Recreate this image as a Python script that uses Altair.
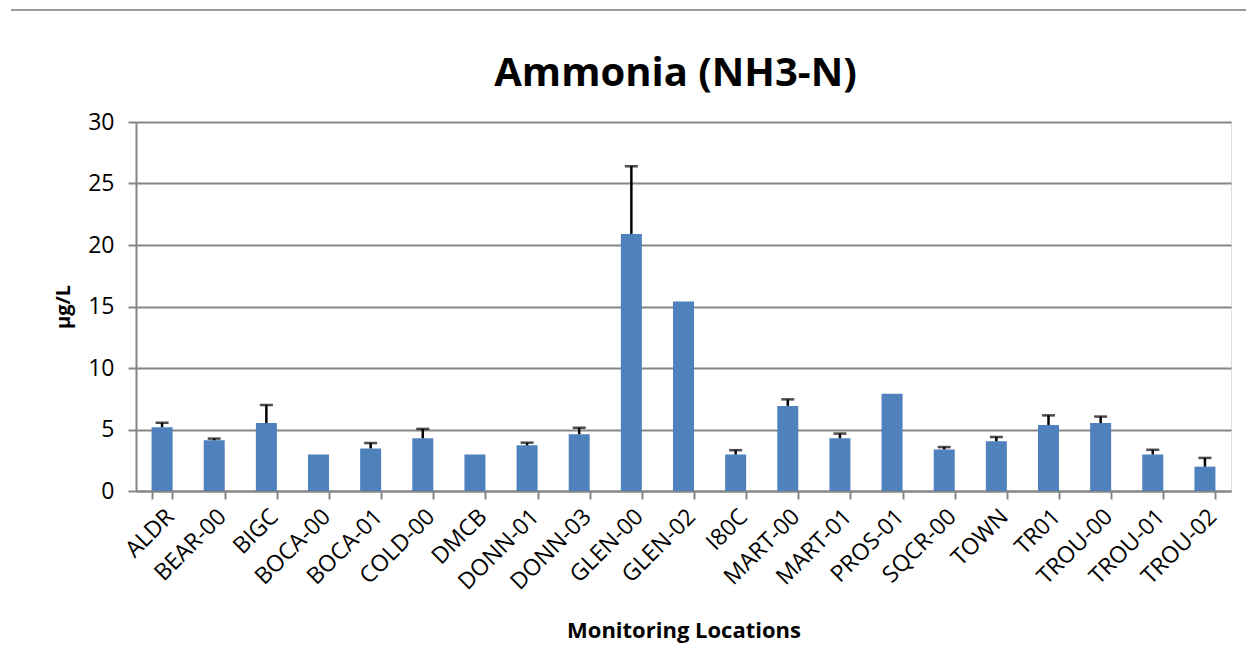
import altair as alt
import pandas as pd

sites = ["ALDR", "BEAR-00", "BIGC", "BOCA-00", "BOCA-01", "COLD-00", "DMCB",
         "DONN-01", "DONN-03", "GLEN-00", "GLEN-02", "I80C", "MART-00", "MART-01",
         "PROS-01", "SQCR-00", "TOWN", "TR01", "TROU-00", "TROU-01", "TROU-02"]
means = [5.19, 4.12, 5.52, 2.97, 3.46, 4.29, 2.97, 3.71, 4.62, 20.9, 15.4,
         2.97, 6.92, 4.29, 7.91, 3.38, 4.04, 5.36, 5.52, 2.97, 1.98]
uppers = [5.55, 4.26, 7.0, None, 3.9, 5.05, None, 3.93, 5.14, 26.4, None,
          3.32, 7.45, 4.67, None, 3.57, 4.39, 6.15, 6.05, 3.35, 2.69]

df = pd.DataFrame({"site": sites, "mean": means, "upper": uppers})
err = df.dropna(subset=["upper"])

FONT = "Open Sans"
GRAY = "#868686"

x = alt.X("site:N", sort=sites, title="Monitoring Locations",
          scale=alt.Scale(paddingInner=0.6, paddingOuter=0.3),
          axis=alt.Axis(labelAngle=-45, labelFontSize=23, labelFont=FONT,
                        labelColor="black", titleFont=FONT, titleFontSize=22,
                        titleFontWeight="bold", titleColor="black", titlePadding=26,
                        tickBand="extent", tickColor=GRAY, tickWidth=2, tickSize=8,
                        domainColor=GRAY, domainWidth=2, grid=False, labelPadding=6))
y = alt.Y("mean:Q", title="µg/L",
          scale=alt.Scale(domain=[0, 30], nice=False),
          axis=alt.Axis(values=[0, 5, 10, 15, 20, 25, 30], labelFontSize=23,
                        labelFont=FONT, labelColor="black", titleFont=FONT,
                        titleFontSize=20, titleFontWeight="bold", titleColor="black",
                        titlePadding=14, tickColor=GRAY, tickWidth=2, tickSize=8,
                        domainColor=GRAY, domainWidth=2, gridColor=GRAY, gridWidth=2,
                        labelPadding=14))

bars = alt.Chart(df).mark_bar(color="#4F81BD", size=21).encode(x=x, y=y)
stems = alt.Chart(err).mark_rule(color="black", strokeWidth=2.5).encode(
    x=alt.X("site:N", sort=sites), y="mean:Q", y2="upper:Q")
caps = alt.Chart(err).mark_tick(color="black", size=13, thickness=2.5,
                                orient="horizontal").encode(
    x=alt.X("site:N", sort=sites), y="upper:Q")
border = alt.Chart(df).mark_rule(color="#9a9a9a", strokeWidth=2).encode(
    x=alt.value(-125), x2=alt.value(1118), y=alt.value(-112))

chart = alt.layer(bars, stems, caps, border).properties(
    width=1095, height=369,
    title=alt.TitleParams("Ammonia (NH3-N)", font=FONT, fontSize=40,
                          fontWeight="bold", color="black", offset=30,
                          dy=115, dx=-8, frame="group"),
    autosize=alt.AutoSizeParams(type="none"),
    padding={"left": 128, "top": 114, "right": 15, "bottom": 170},
).configure_view(stroke=None).configure(background="white")

chart.save("out.html", embed_options={"renderer": "svg", "actions": False})
